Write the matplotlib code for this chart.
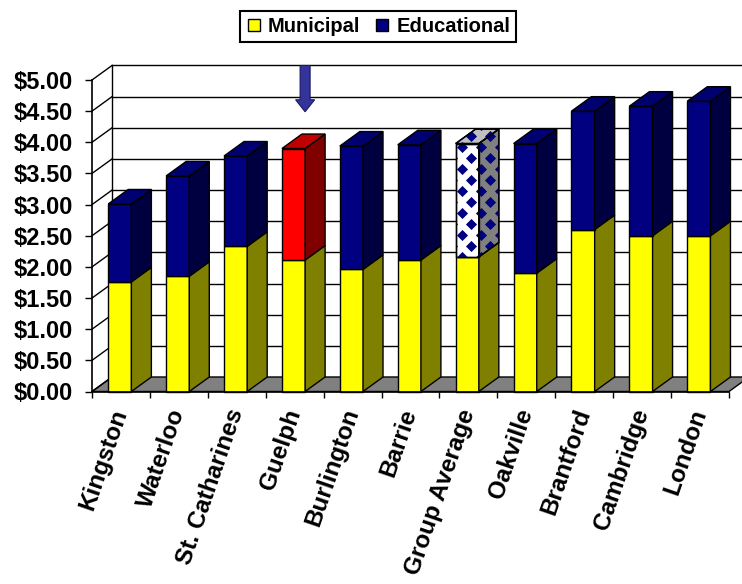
import matplotlib
matplotlib.use("Agg")
import matplotlib.pyplot as plt
import numpy as np
from matplotlib.patches import Polygon, FancyArrow
from matplotlib.lines import Line2D

# ---- data -------------------------------------------------------------
cities = ["Kingston", "Waterloo", "St. Catharines", "Guelph", "Burlington",
          "Barrie", "Group Average", "Oakville", "Brantford", "Cambridge",
          "London"]
municipal = [1.76, 1.85, 2.33, 2.11, 1.96, 2.11, 2.16, 1.90, 2.60, 2.50, 2.50]
educational = [1.25, 1.61, 1.45, 1.79, 1.98, 1.85, 1.82, 2.08, 1.90, 2.08, 2.16]
series_names = ["Municipal", "Educational"]
y_ticks = [0.0, 0.5, 1.0, 1.5, 2.0, 2.5, 3.0, 3.5, 4.0, 4.5, 5.0]
y_labels = ["$%.2f" % v for v in y_ticks]
highlight_city = "Guelph"
average_city = "Group Average"

# ---- styling ----------------------------------------------------------
plt.rcParams["font.family"] = ["Liberation Sans", "DejaVu Sans"]
plt.rcParams["font.weight"] = "bold"

YELLOW, YELLOW_SIDE = "#FFFF00", "#808000"
NAVY, NAVY_SIDE, NAVY_TOP = "#000080", "#000040", "#000070"
RED, RED_SIDE, RED_TOP = "#FF0000", "#800000", "#C00000"
FLOOR = "#808080"

W_PX, H_PX = 742, 584
fig = plt.figure(figsize=(W_PX / 100, H_PX / 100), dpi=100)
ax = fig.add_axes([92 / W_PX, (H_PX - 391.5) / H_PX, 637 / W_PX, 311.5 / H_PX])
n = len(cities)
ax.set_xlim(0, n)
ax.set_ylim(0, 5)

# pixel -> data unit factors, used for the 3-D depth and the fill pattern
PX_X = n / 637.0
PX_Y = 5 / 311.5
DX, DY = 20 * PX_X, 14.5 * PX_Y
BAR_LEFT, BAR_W = 0.28, 0.40

# ---- walls and floor -------------------------------------------------
floor = Polygon([(0, 0), (DX, DY), (n + DX, DY), (n, 0)], closed=True,
                facecolor=FLOOR, edgecolor="black", lw=1.0, clip_on=False,
                zorder=1)
ax.add_patch(floor)
for v in y_ticks:
    ax.plot([0, DX], [v, v + DY], color="black", lw=1.0, clip_on=False, zorder=1.2)
    if v > 0:
        ax.plot([DX, n + DX], [v + DY, v + DY], color="black", lw=1.0,
                clip_on=False, zorder=1.2)
ax.plot([DX, DX], [DY, 5 + DY], color="black", lw=1.0, clip_on=False, zorder=1.2)


def add_face(pts, color, z):
    p = Polygon(pts, closed=True, facecolor=color, edgecolor="black",
                lw=1.0, clip_on=False, zorder=z, joinstyle="miter")
    ax.add_patch(p)
    return p


def diamond_fill(patch, x0, x1, y0, y1, z):
    xs = np.arange(x0 + 7 * PX_X - 20 * PX_X, x1 + 12 * PX_X, 9.5 * PX_X)
    pts_x, pts_y = [], []
    for k, xv in enumerate(xs):
        off = (k % 2) * 11 * PX_Y
        for yv in np.arange(y0 - 22 * PX_Y + off, y1 + 22 * PX_Y, 22 * PX_Y):
            pts_x.append(xv)
            pts_y.append(yv)
    sc = ax.scatter(pts_x, pts_y, marker="D", s=32, color=NAVY,
                    linewidths=0, zorder=z + 0.05)
    sc.set_clip_path(patch)
    # redraw outline above the pattern
    ax.add_patch(Polygon(patch.get_xy(), closed=True, fill=False,
                         edgecolor="black", lw=1.0, clip_on=False,
                         zorder=z + 0.1))


def draw_block(x0, y0, y1, front, side, top, z, pattern=False):
    x1 = x0 + BAR_W
    f = add_face([(x0, y0), (x1, y0), (x1, y1), (x0, y1)], front, z)
    s = add_face([(x1, y0), (x1 + DX, y0 + DY), (x1 + DX, y1 + DY), (x1, y1)], side, z)
    t = None
    if top is not None:
        t = add_face([(x0, y1), (x0 + DX, y1 + DY), (x1 + DX, y1 + DY), (x1, y1)], top, z)
    if pattern:
        for face in (f, s, t):
            if face is not None:
                diamond_fill(face, x0, x1 + DX, y0, y1 + DY, z)


for i, city in enumerate(cities):
    x0 = i + BAR_LEFT
    m, e = municipal[i], educational[i]
    z = 3 + i * 0.2
    draw_block(x0, 0, m, YELLOW, YELLOW_SIDE, None, z)
    if city == highlight_city:
        draw_block(x0, m, m + e, RED, RED_SIDE, RED_TOP, z)
    elif city == average_city:
        draw_block(x0, m, m + e, "white", "#808080", "#C0C0C0", z, pattern=True)
    else:
        draw_block(x0, m, m + e, NAVY, NAVY_SIDE, NAVY_TOP, z)

# arrow pointing at the highlighted city
hi = cities.index(highlight_city)
arrow_top = 5 + DY
arrow_tip = 4.49
ax.add_patch(FancyArrow(hi + 0.68, arrow_top, 0, arrow_tip - arrow_top,
                        width=10 * PX_X, head_width=19 * PX_X,
                        head_length=12 * PX_Y, length_includes_head=True,
                        facecolor="#333399", edgecolor="#1A1A66", lw=0.8,
                        clip_on=False, zorder=10))

# ---- axes decoration -------------------------------------------------
for side in ("top", "right"):
    ax.spines[side].set_visible(False)
for side in ("left", "bottom"):
    ax.spines[side].set_linewidth(1.2)
    ax.spines[side].set_zorder(20)
ax.patch.set_alpha(0)

ax.set_yticks(y_ticks, labels=y_labels)
ax.tick_params(axis="y", direction="out", length=5, width=1.0, pad=9,
               labelsize=17)
ax.set_xticks(np.arange(n) + 0.5, labels=cities)
ax.set_xticks(np.arange(n + 1), minor=True)
ax.tick_params(axis="x", which="major", length=0, pad=13, labelsize=17.5)
ax.tick_params(axis="x", which="minor", direction="out", length=4.5, width=1.0)
for lab in ax.get_xticklabels():
    lab.set_rotation(71)
    lab.set_ha("right")
    lab.set_va("center")
    lab.set_rotation_mode("anchor")
for lab in ax.get_yticklabels() + ax.get_xticklabels():
    lab.set_fontweight("bold")

# ---- legend ----------------------------------------------------------
handles = [Line2D([], [], ls="", marker="s", markersize=9, markerfacecolor=c,
                  markeredgecolor="black", markeredgewidth=1.0)
           for c in (YELLOW, NAVY)]
leg = fig.legend(handles, series_names, loc="upper center",
                 bbox_to_anchor=(378 / W_PX, 1 - 1 / H_PX), ncol=2,
                 frameon=True, fancybox=False, framealpha=1,
                 edgecolor="black", handlelength=0.8, handletextpad=0.3,
                 columnspacing=0.7, borderpad=0.3,
                 prop={"weight": "bold", "size": 14.5})
leg.get_frame().set_linewidth(1.5)

fig.savefig("out.png", dpi=100)
